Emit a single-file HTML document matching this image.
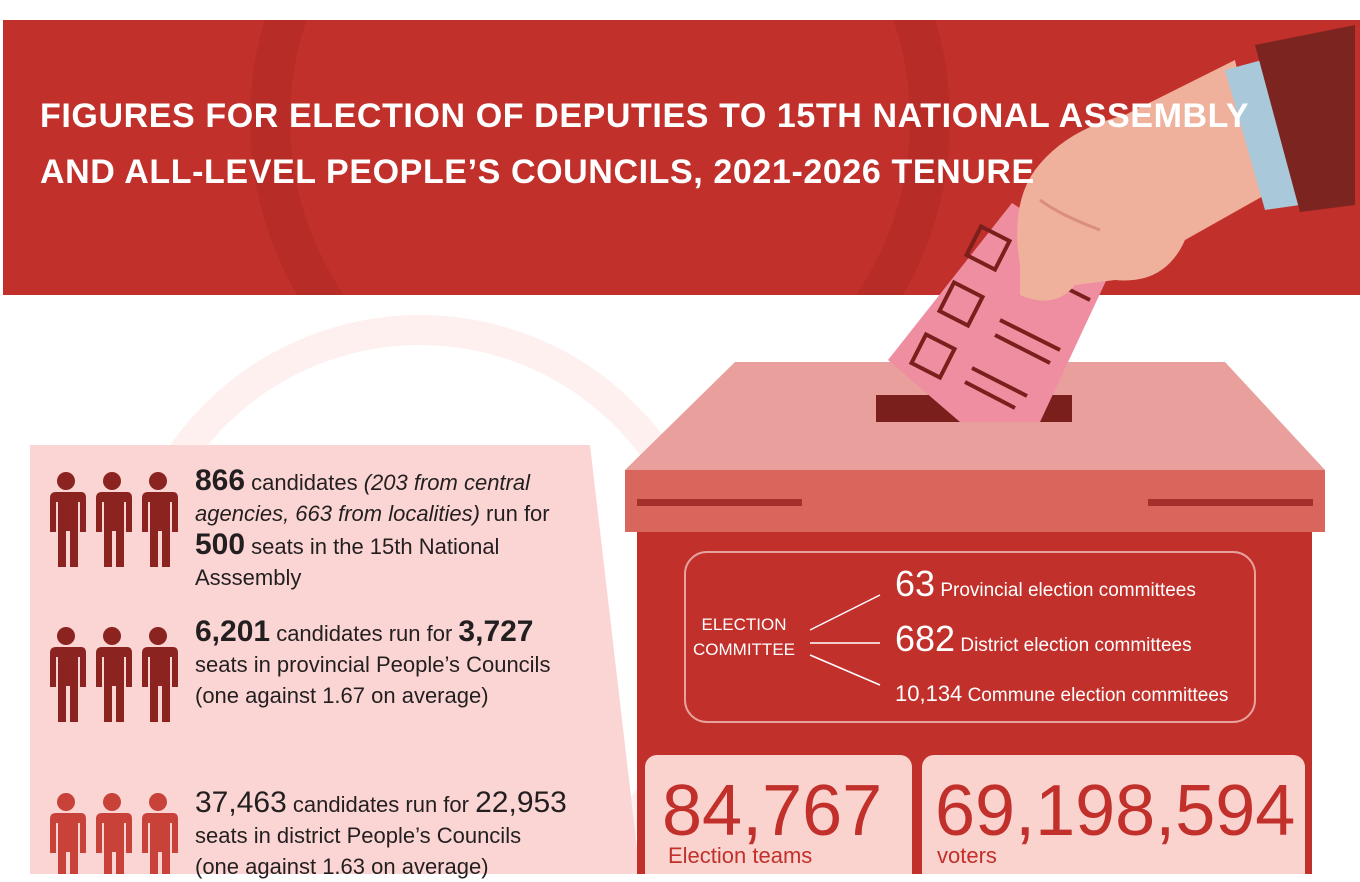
<!DOCTYPE html>
<html><head><meta charset="utf-8"><style>
body{margin:0;width:1360px;height:874px;overflow:hidden;background:#fff;position:relative;font-family:"Liberation Sans",sans-serif}
.a{position:absolute}
.t{color:#231f20;font-size:22px;line-height:31px}
.t b{font-size:30px}
</style></head><body>
<svg class="a" style="left:0;top:0" width="1360" height="874">
<defs>
<g id="p"><circle cx="20" cy="9" r="9"/><path d="M5 20h30q5 0 5 6v34h-6v-30h-2v65h-8v-36h-4v36h-8v-65h-2v30h-6v-34q0-6 6-6z"/></g>
<clipPath id="b"><rect x="3" y="20" width="1357" height="275"/></clipPath>
</defs>
<circle cx="420" cy="620" r="290" fill="none" stroke="#fdf0ee" stroke-width="30"/>
<rect x="3" y="20" width="1357" height="275" fill="#c1302b"/>
<circle cx="600" cy="120" r="330" fill="none" stroke="#b82c27" stroke-width="40" clip-path="url(#b)"/>
<polygon points="30,445 590,445 640,874 30,874" fill="#fbd5d3"/>
<g fill="#8b2420"><use href="#p" x="46" y="472"/><use href="#p" x="92" y="472"/><use href="#p" x="138" y="472"/>
<use href="#p" x="46" y="627"/><use href="#p" x="92" y="627"/><use href="#p" x="138" y="627"/></g>
<g fill="#c8423a"><use href="#p" x="46" y="793"/><use href="#p" x="92" y="793"/><use href="#p" x="138" y="793"/></g>
<polygon points="735,362 1225,362 1325,470 625,470" fill="#e9a09c"/>
<rect x="876" y="395" width="196" height="27" fill="#7a1f1c"/>
<polygon points="1012,203 1112,268 1040,422 960,422 888,360" fill="#ef8ea0"/>
<g fill="none" stroke="#7a1f1c" stroke-width="4"><rect x="972" y="232" width="32" height="32" transform="rotate(27 988 248)"/><rect x="945" y="288" width="32" height="32" transform="rotate(27 961 304)"/><rect x="917" y="340" width="32" height="32" transform="rotate(27 933 356)"/>
<path d="M1000 320l60 30M995 335l55 28M972 368l55 28M965 382l50 26M1040 275l50 25"/></g>
<rect x="625" y="470" width="700" height="62" fill="#d8665c"/>
<rect x="637" y="499" width="165" height="7" fill="#a3302a"/>
<rect x="1148" y="499" width="165" height="7" fill="#a3302a"/>
<rect x="637" y="532" width="675" height="342" fill="#c1302b"/>
<rect x="685" y="552" width="570" height="170" rx="22" fill="none" stroke="#e8a29c" stroke-width="2"/>
<g stroke="#fff" stroke-width="1.5" fill="none"><path d="M810 630L880 595M810 643H880M810 655L880 685"/></g>
<rect x="645" y="755" width="267" height="130" rx="12" fill="#fad3cf"/>
<rect x="922" y="755" width="383" height="130" rx="12" fill="#fad3cf"/>
<path d="M1020 265q-10-60 15-95q30-40 90-55l110-55 30 135-80 45q-20 45-70 40l-40 5q-20 25-55 10z" fill="#efb09c"/>
<path d="M1040 200q20 15 60 30" stroke="#d98f7e" stroke-width="3" fill="none"/>
<polygon points="1225,70 1262,60 1300,205 1265,210" fill="#a9c8d9"/>
<polygon points="1255,45 1355,25 1355,205 1300,212" fill="#7c2420"/>
</svg>
<div class="a" style="left:40px;top:88px;color:#fff;font-weight:bold;font-size:34px;line-height:56px;letter-spacing:.6px;white-space:nowrap">FIGURES FOR ELECTION OF DEPUTIES TO 15TH NATIONAL ASSEMBLY<br>AND ALL-LEVEL PEOPLE’S COUNCILS, 2021-2026 TENURE</div>
<div class="a t" style="left:195px;top:465px;width:380px"><b>866</b> candidates <i>(203 from central agencies, 663 from localities)</i> run for<br><b>500</b> seats in the 15th National Asssembly</div>
<div class="a t" style="left:195px;top:616px;width:400px"><b>6,201</b> candidates run for <b>3,727</b><br>seats in provincial People’s Councils<br>(one against 1.67 on average)</div>
<div class="a t" style="left:195px;top:787px;width:430px"><span style="font-size:30px">37,463</span> candidates run for <span style="font-size:30px">22,953</span><br>seats in district People’s Councils<br>(one against 1.63 on average)</div>
<div class="a" style="left:693px;top:612px;color:#fff;font-size:17px;text-align:center;line-height:25px">ELECTION<br>COMMITTEE</div>
<div class="a" style="left:895px;top:560px;color:#fff;font-size:19px;line-height:48px;white-space:nowrap"><span style="font-size:36px">63</span> Provincial election committees<br><span style="font-size:36px">682</span> District election committees<br><span style="font-size:22px">10,134</span> Commune election committees</div>
<div class="a" style="left:662px;top:772px;color:#c1302b;font-size:72px;line-height:78px">84,767</div>
<div class="a" style="left:668px;top:843px;color:#c1302b;font-size:22px">Election teams</div>
<div class="a" style="left:935px;top:772px;color:#c1302b;font-size:72px;line-height:78px;white-space:nowrap">69,198,594</div>
<div class="a" style="left:937px;top:843px;color:#c1302b;font-size:22px">voters</div>
</body></html>
